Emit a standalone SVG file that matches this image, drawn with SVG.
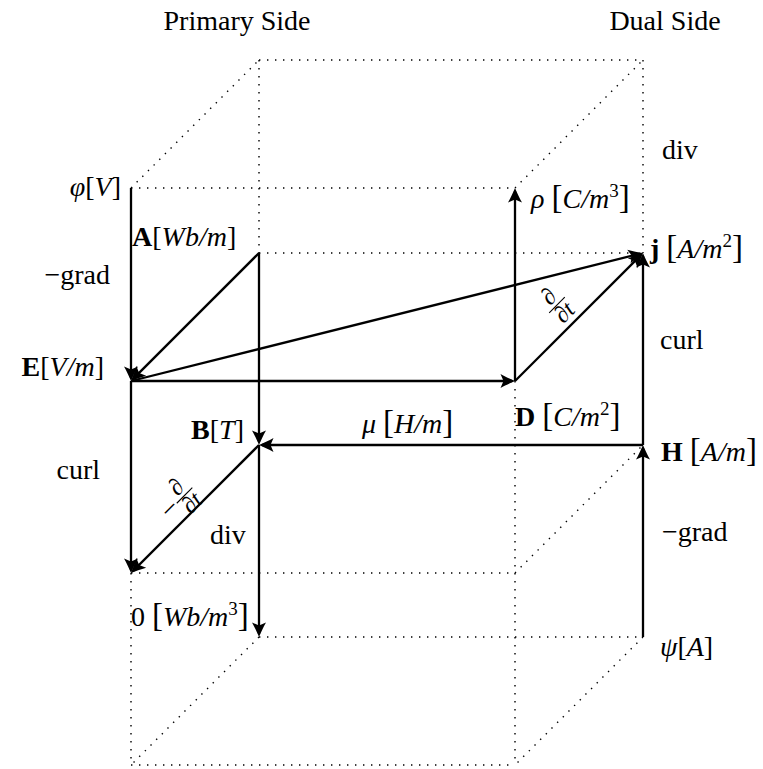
<svg xmlns="http://www.w3.org/2000/svg" width="763" height="769" viewBox="0 0 763 769">
<style>
text{font-family:"Liberation Serif","DejaVu Serif",serif;font-size:28px;fill:#000}
.i{font-style:italic}
.b{font-weight:bold}
.br{font-size:33px}
.dot{stroke:#000;stroke-width:1.4;stroke-dasharray:1.4 6.6;fill:none}
.arr{stroke:#000;stroke-width:2.3;fill:none;marker-end:url(#ah)}
.sup{font-size:19px}
.fr{font-size:24px}
</style>
<defs>
<marker id="ah" markerUnits="userSpaceOnUse" viewBox="-16 -9 18 18" markerWidth="18" markerHeight="18" refX="-3" refY="0" orient="auto" overflow="visible">
<path d="M0,0 C-4,-1.6 -10,-4.5 -14.5,-7 L-11.5,0 L-14.5,7 C-10,4.5 -4,1.6 0,0 Z" fill="#000"/>
</marker>
</defs>
<g id="box">
<line class="dot" x1="259" y1="60" x2="643" y2="60"/>
<line class="dot" x1="259" y1="60" x2="259" y2="253"/>
<line class="dot" x1="643" y1="60" x2="643" y2="253"/>
<line class="dot" x1="131" y1="188" x2="259" y2="60"/>
<line class="dot" x1="515" y1="188" x2="643" y2="60"/>
<line class="dot" x1="131" y1="188" x2="515" y2="188"/>
<line class="dot" x1="259" y1="253" x2="643" y2="253"/>
<line class="dot" x1="515" y1="381" x2="515" y2="765"/>
<line class="dot" x1="131" y1="573" x2="515" y2="573"/>
<line class="dot" x1="515" y1="573" x2="643" y2="445"/>
<line class="dot" x1="131" y1="573" x2="131" y2="765"/>
<line class="dot" x1="131" y1="765" x2="515" y2="765"/>
<line class="dot" x1="259" y1="637" x2="643" y2="637"/>
<line class="dot" x1="259" y1="637" x2="131" y2="765"/>
<line class="dot" x1="643" y1="637" x2="515" y2="765"/>
</g>
<g id="connectors">
<line class="arr" x1="131" y1="188" x2="131" y2="378"/>
<line class="arr" x1="131" y1="381" x2="131" y2="570"/>
<line class="arr" x1="259" y1="253" x2="259" y2="442"/>
<line class="arr" x1="259" y1="445" x2="259" y2="634"/>
<line class="arr" x1="259" y1="253" x2="133.1" y2="378.9"/>
<line class="arr" x1="131" y1="381" x2="512" y2="381"/>
<line class="arr" x1="515" y1="381" x2="515" y2="191"/>
<line class="arr" x1="515" y1="381" x2="640.9" y2="255.1"/>
<line class="arr" x1="131" y1="381" x2="640.1" y2="253.7"/>
<line class="arr" x1="643" y1="445" x2="643" y2="256"/>
<line class="arr" x1="643" y1="637" x2="643" y2="448"/>
<line class="arr" x1="643" y1="445" x2="262" y2="445"/>
<line class="arr" x1="259" y1="445" x2="133.1" y2="570.9"/>
</g>
<g id="titles">
<text x="237" y="30" text-anchor="middle">Primary Side</text>
<text x="665" y="30" text-anchor="middle">Dual Side</text>
</g>
<g id="phi"><text x="121" y="196" text-anchor="end"><tspan class="i">φ</tspan>[<tspan class="i">V</tspan>]</text></g>
<g id="A"><text x="132" y="246"><tspan class="b">A</tspan>[<tspan class="i">Wb/m</tspan>]</text></g>
<g id="E"><text x="104" y="376" text-anchor="end"><tspan class="b">E</tspan>[<tspan class="i">V/m</tspan>]</text></g>
<g id="zero"><text x="131" y="626">0 <tspan class="br">[</tspan><tspan class="i">Wb/m</tspan><tspan class="sup" dy="-11">3</tspan><tspan class="br" dy="11">]</tspan></text></g>
<g id="B"><text x="244" y="439" text-anchor="end"><tspan class="b">B</tspan>[<tspan class="i">T</tspan>]</text></g>
<g id="rho"><text x="531" y="208"><tspan class="i">ρ</tspan> <tspan class="br">[</tspan><tspan class="i">C/m</tspan><tspan class="sup" dy="-11">3</tspan><tspan class="br" dy="11">]</tspan></text></g>
<g id="j"><text x="650" y="258"><tspan class="b">j</tspan> <tspan class="br">[</tspan><tspan class="i">A/m</tspan><tspan class="sup" dy="-11">2</tspan><tspan class="br" dy="11">]</tspan></text></g>
<g id="D"><text x="515" y="426"><tspan class="b">D</tspan> <tspan class="br">[</tspan><tspan class="i">C/m</tspan><tspan class="sup" dy="-11">2</tspan><tspan class="br" dy="11">]</tspan></text></g>
<g id="H"><text x="661" y="461"><tspan class="b">H</tspan> <tspan class="br">[</tspan><tspan class="i">A/m</tspan><tspan class="br">]</tspan></text></g>
<g id="psi"><text x="660" y="656"><tspan class="i">ψ</tspan>[<tspan class="i">A</tspan>]</text></g>
<g id="labels">
<text x="110" y="284" text-anchor="end">−grad</text>
<text x="662" y="159">div</text>
<text x="660" y="349">curl</text>
<text x="362" y="433"><tspan class="i">μ</tspan> <tspan class="br">[</tspan><tspan class="i">H/m</tspan><tspan class="br">]</tspan></text>
<text x="100" y="479" text-anchor="end">curl</text>
<text x="210" y="544">div</text>
<text x="662" y="541">−grad</text>
<g transform="translate(557,305) rotate(-45)">
<text class="fr" x="0" y="-4" text-anchor="middle">∂</text>
<line x1="-11" y1="0" x2="11" y2="0" stroke="#000" stroke-width="1.1"/>
<text class="fr" x="0" y="18" text-anchor="middle">∂<tspan class="i">t</tspan></text>
</g>
<g transform="translate(181,499) rotate(-45)">
<text x="-15" y="8" text-anchor="middle">−</text>
<text class="fr" x="5" y="-4" text-anchor="middle">∂</text>
<line x1="-6" y1="0" x2="16" y2="0" stroke="#000" stroke-width="1.1"/>
<text class="fr" x="5" y="18" text-anchor="middle">∂<tspan class="i">t</tspan></text>
</g>
</g>
</svg>
